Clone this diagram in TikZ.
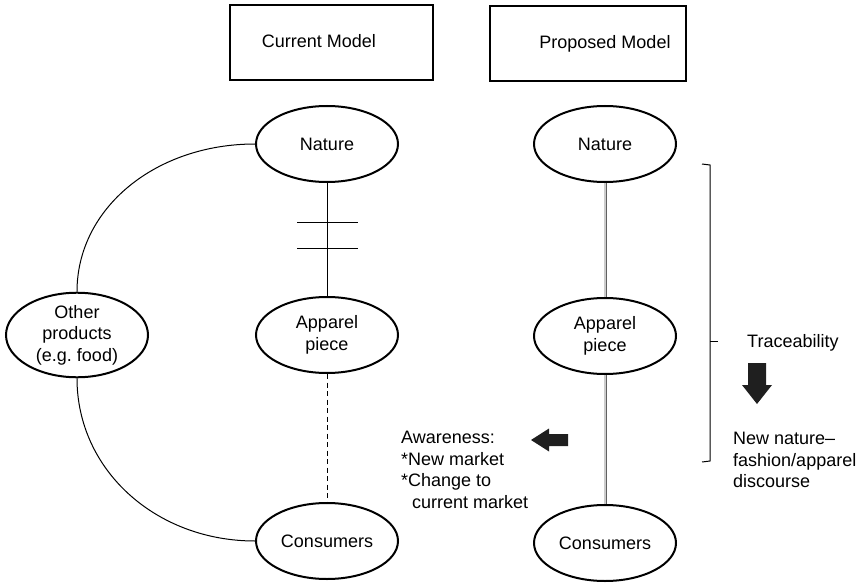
\documentclass[tikz,border=0pt]{standalone}
\usepackage{fontspec}
\setmainfont{Liberation Sans}
\usetikzlibrary{shapes.geometric}

\tikzset{
  txt/.style={font=\fontsize{18}{21.5}\selectfont, inner sep=0pt},
  oval/.style={ellipse, draw, line width=2pt, minimum width=142pt, minimum height=76pt,
               inner sep=0pt, align=center, font=\fontsize{18}{21.5}\selectfont},
  titlebox/.style={draw, line width=2pt},
  link/.style={line width=1pt},
  trace/.style={draw=gray!75!black, double=gray!40, double distance=1.2pt, line width=0.9pt},
  blockarrow/.style={fill=black!88, draw=none}
}

\begin{document}
\begin{tikzpicture}[x=1pt, y=-1pt]
\useasboundingbox (0,0) rectangle (865,583);

% title boxes
\draw[titlebox] (230,5) rectangle (433,80);
\node[txt, anchor=base] (tcur) at (319,48) {Current Model};
\draw[titlebox] (490,6) rectangle (686,81);
\node[txt, anchor=base] (tprop) at (605,49) {Proposed Model};

% current model
\node[oval] (natL) at (327,144) {Nature};
\node[oval] (appL) at (327,335) {Apparel\\piece};
\node[oval] (conL) at (327,541) {Consumers};
\node[oval] (oth)  at (77,335)  {Other\\products\\(e.g.\ food)};

\draw[link] (natL) -- (appL);
\draw[link] (297,222) -- (358,222);
\draw[link] (297,248) -- (358,248);
\draw[link, dashed, dash pattern=on 5pt off 3.5pt] (appL) -- (conL);

\draw[link] (natL.west) .. controls +(-99,0) and +(0,-84) .. (oth.north);
\draw[link] (oth.south) .. controls +(0,92) and +(-99,0) .. (conL.west);

% proposed model
\node[oval] (natR) at (605,144) {Nature};
\node[oval] (appR) at (605,336) {Apparel\\piece};
\node[oval] (conR) at (605,543) {Consumers};

\draw[trace] (natR) -- (appR);
\draw[trace] (appR) -- (conR);

% bracket
\draw[link] (702,164) -- (710,165) -- (710,461) -- (702,462);
\draw[link] (710,341) -- (718,341);

\node[txt, anchor=base west] (trc) at (747,347) {Traceability};
\fill[blockarrow] (748,363) -- (766,363) -- (766,385) -- (772,385) -- (757,404)
                  -- (742,385) -- (748,385) -- cycle;

\node[txt, anchor=north west, align=left] (disc) at (733,432)
  {New nature–\\fashion/apparel\\discourse};

% awareness
\fill[blockarrow] (531,440) -- (549,428.5) -- (549,434) -- (568,434) -- (568,446)
                  -- (549,446) -- (549,451.5) -- cycle;
\node[txt, anchor=north west, align=left] (aw) at (401,431)
  {Awareness:\\*New market\\*Change to\\\hspace*{11pt}current market};

\end{tikzpicture}
\end{document}
